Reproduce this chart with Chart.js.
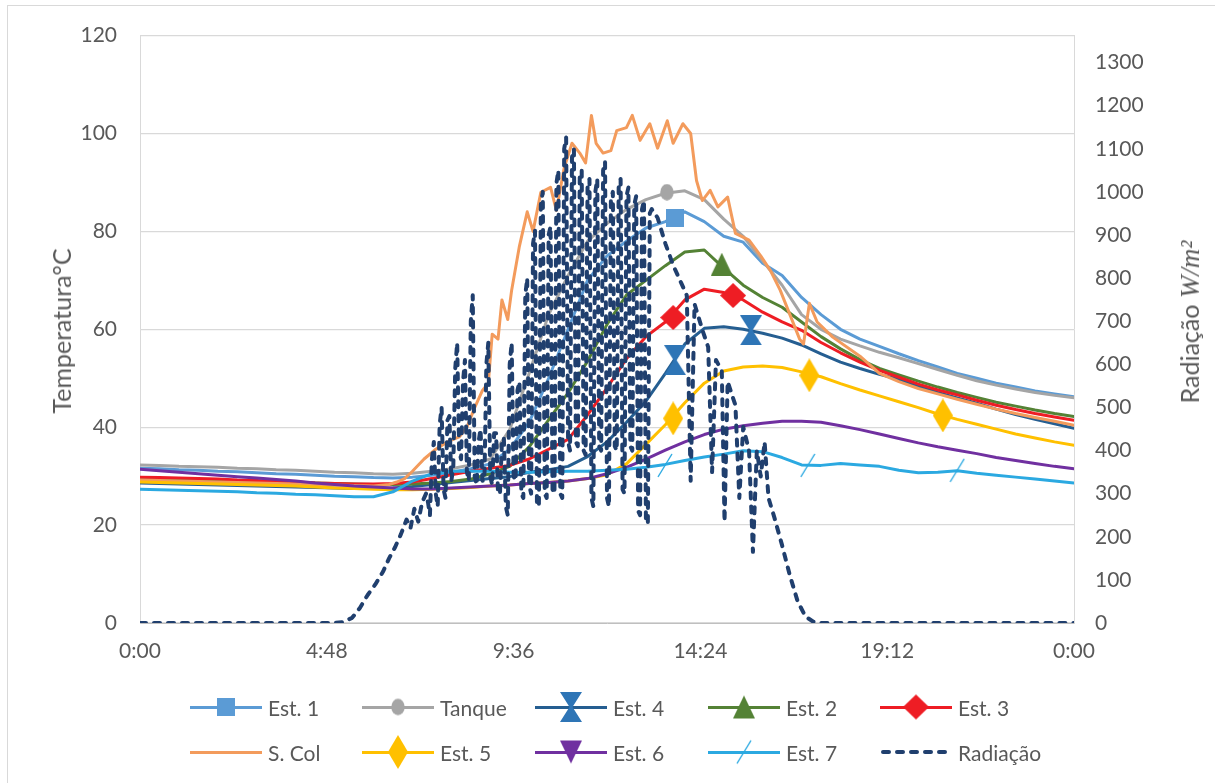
<!DOCTYPE html>
<html>
<head>
<meta charset="utf-8">
<script src="https://cdn.jsdelivr.net/npm/chart.js@4.4.1/dist/chart.umd.min.js"></script>
<style>
html,body{margin:0;padding:0;background:#fff;}
#wrap{position:relative;width:1215px;height:783px;overflow:hidden;font-family:Lato,'Open Sans',sans-serif;color:#595959;background:#fff;}
#frame{position:absolute;left:7px;top:5px;width:1400px;height:1000px;border-left:1px solid #D9D9D9;border-top:1px solid #D9D9D9;}
#c{position:absolute;left:0;top:0;}
.ytitle{position:absolute;white-space:nowrap;font-size:25px;transform:translate(-50%,-50%) rotate(-90deg);}
.ytitle i{font-family:'Liberation Serif','DejaVu Serif',serif;font-size:27px;}
.li{position:absolute;display:flex;align-items:center;height:36px;transform:translateY(-50%);font-size:21px;white-space:nowrap;}
.sym{position:relative;width:72px;height:36px;margin-right:6px;}
.sym .ln{position:absolute;left:0;top:16.5px;width:72px;height:3px;}
.sym img{position:absolute;left:36px;top:18px;transform:translate(-50%,-50%);}
</style>
</head>
<body>
<div id="wrap">
  <div id="frame"></div>
  <canvas id="c" width="1215" height="783"></canvas>
  <div class="ytitle" style="left:61px;top:331px;">Temperatura°C</div>
  <div class="ytitle" style="left:1190px;top:322px;">Radiação <i>W/m²</i></div>
  <div id="legend"></div>
</div>
<script>
// ---------------- DATA ----------------
const hours = [0,0.5,1,1.5,2,2.5,3,3.5,4,4.5,5,5.5,6,6.5,7,7.5,8,8.5,9,9.5,10,10.5,11,11.5,12,12.5,13,13.5,14,14.5,15,15.5,16,16.5,17,17.5,18,18.5,19,19.5,20,20.5,21,21.5,22,22.5,23,23.5,24];

const est1   = [31.6,31.5,31.3,31.2,31.0,30.9,30.7,30.5,30.4,30.2,30.0,29.9,29.7,29.6,29.8,30.2,30.8,31.5,32.5,35.5,41,50,60,70,75,78,80.7,82,84,82,79,77.8,73.5,71,66.5,63,60,58,56.5,55,53.6,52.3,51,50,49,48.2,47.4,46.8,46.2];
const tanque = [32.3,32.2,32.0,31.9,31.8,31.6,31.5,31.3,31.2,31.0,30.8,30.7,30.5,30.4,30.6,31.0,31.5,32.3,33.5,39.5,51,63,71,78,81.6,84.5,86.5,87.8,88.3,86.5,82.5,79,74,69,63,60,58,56.6,55.3,54.2,53,51.8,50.6,49.5,48.6,47.8,47.1,46.5,46];
const est4   = [28.6,28.5,28.4,28.3,28.2,28.1,28.0,27.9,27.8,27.7,27.6,27.5,27.5,27.6,27.9,28.3,28.7,29.1,29.5,29.9,30.8,31.3,32,34,37,41,45.3,51,57,60.2,60.5,60,59.2,58.2,56.8,55,53.3,52,50.8,49.8,48.4,47.1,46,44.9,43.7,42.6,41.6,40.7,39.8];
const est2   = [29.5,29.4,29.3,29.2,29.1,29.0,28.9,28.8,28.7,28.6,28.5,28.4,28.3,28.3,28.4,28.6,28.9,29.4,30.5,32,36,41.5,47,53.5,61,67,70,73,75.8,76.2,72.5,69,66.5,64.5,61.5,58.5,56,53.8,52,50.7,49.4,48.2,47.1,46.1,45.1,44.3,43.5,42.8,42.2];
const est3   = [29.8,29.7,29.6,29.5,29.4,29.2,29.1,28.9,28.8,28.6,28.5,28.4,28.4,28.5,28.8,29.5,30.3,31,31.6,32.2,33.5,35.5,37.5,42.5,48,54,58.5,61.5,66,68.2,67.5,66,63.5,61.5,59.8,57.3,55.2,53.3,51.6,50.2,48.8,47.6,46.6,45.5,44.5,43.6,42.8,42.1,41.4];
const est5   = [28.8,28.7,28.6,28.5,28.4,28.3,28.2,28.1,28.0,27.8,27.6,27.5,27.3,27.2,27.2,27.3,27.5,27.7,28.0,28.2,28.5,28.7,29.0,29.5,30.3,32.5,36.5,40.5,45,49,51.5,52.3,52.5,52.2,51.3,50.3,48.9,47.6,46.4,45.2,44,42.7,41.6,40.6,39.6,38.6,37.8,37,36.3];
const est6   = [31.4,31.1,30.8,30.5,30.2,29.9,29.6,29.3,29.0,28.6,28.3,28.0,27.8,27.6,27.4,27.4,27.6,27.8,28.0,28.2,28.5,28.7,29.0,29.5,30.5,31.8,33.5,35.3,37,38.5,39.6,40.3,40.8,41.2,41.2,41,40.3,39.5,38.6,37.7,36.8,36,35.3,34.6,33.8,33.2,32.6,32,31.5];
const est7   = [27.3,27.2,27.1,27.0,26.9,26.8,26.6,26.5,26.3,26.2,26.0,25.8,25.8,26.8,29.0,30.5,31.0,31.0,31.0,30.8,30.8,30.9,31.0,31.0,31.2,31.4,31.8,32.4,33.2,33.9,34.5,35.2,35.0,33.8,32.3,32.2,32.6,32.3,32.0,31.2,30.7,30.8,31.1,30.6,30.2,29.8,29.4,29.0,28.6];

const scolHours  = [0,1,2,3,4,5,6,6.4,6.6,6.8,7.0,7.3,7.6,7.9,8.2,8.4,8.6,8.8,8.95,9.05,9.2,9.3,9.45,9.55,9.75,9.95,10.1,10.3,10.55,10.7,10.9,11.1,11.3,11.45,11.6,11.72,11.9,12.1,12.25,12.5,12.65,12.85,13.1,13.3,13.55,13.7,13.95,14.15,14.3,14.45,14.65,14.85,15.1,15.3,15.65,15.95,16.2,16.45,16.7,16.95,17.05,17.2,17.4,17.8,18.5,19,19.5,20,20.5,21,21.5,22,22.5,23,23.5,24];
const scolValues = [29.2,29.0,28.8,28.6,28.4,28.2,28.0,28.3,28.8,29.5,31,33.5,35.5,37,38,40,44,47.5,49,59,58,66,62,68,77,84,80,88,89,84.3,93,98,96,94,103.7,98,96,96.5,100.6,101.2,103.7,98.6,102,97,102.6,98,102,100,90.4,86.3,88.4,85,87,79.6,78.2,75,72,68,63,58,57,65.3,61.5,58.4,54.5,51,49.3,47.9,46.8,45.7,44.7,43.7,42.8,42,41.2,40.4];

const radHours  = [0,5.0,5.2,5.45,5.65,5.85,6.05,6.25,6.4,6.55,6.7,6.85,6.95,7.05,7.15,7.25,7.35,
  7.40,7.45,7.50,7.55,7.60,7.65,7.70,7.75,7.80,7.85,7.90,7.95,8.00,8.05,8.10,8.15,8.20,8.25,8.30,8.35,8.40,8.45,8.50,8.55,8.60,8.65,8.70,8.75,8.80,8.85,8.90,8.95,
  9.00,9.05,9.10,9.15,9.20,9.25,9.30,9.35,9.40,9.45,9.50,9.55,9.60,9.65,9.70,9.75,9.80,9.85,9.90,9.95,
  10.00,10.05,10.10,10.15,10.20,10.25,10.30,10.35,10.40,10.45,10.50,10.55,10.60,10.65,10.70,10.75,10.80,10.85,10.90,10.95,
  11.00,11.05,11.10,11.15,11.20,11.25,11.30,11.35,11.40,11.45,11.50,11.55,11.60,11.65,11.70,11.75,11.80,11.85,11.90,11.95,
  12.00,12.05,12.10,12.15,12.20,12.25,12.30,12.35,12.40,12.45,12.50,12.55,12.60,12.65,12.70,12.75,12.80,12.85,12.90,12.95,
  13.00,13.05,13.10,13.15,13.3,13.5,13.7,13.9,14.05,14.15,14.25,14.45,14.6,14.7,14.8,14.95,15.02,15.1,15.3,15.4,15.5,15.65,15.75,15.85,15.95,16.05,16.15,16.3,16.5,16.7,16.9,17.1,17.3,17.5,24];
const radValues = [0,0,2,12,35,65,90,120,150,175,205,240,220,265,235,280,300,
  280,250,380,420,300,270,460,500,310,290,470,480,330,360,590,650,400,380,560,610,350,330,700,760,340,320,420,450,330,330,600,650,
  340,320,440,440,300,300,420,430,270,250,600,650,340,330,540,560,300,290,760,800,
  320,300,880,910,280,270,970,1000,300,290,900,920,310,300,1020,1050,300,290,1100,1126,
  420,400,1080,1100,420,410,1040,1050,400,390,1010,1030,290,270,1000,1030,410,400,1050,1070,
  290,270,980,1000,410,400,1010,1030,310,300,990,1010,410,400,970,990,260,250,960,980,
  240,230,950,960,940,880,830,790,760,330,740,680,640,350,610,585,235,560,505,290,455,400,165,400,340,420,290,245,180,110,50,15,3,0,0];

// marker points: [hour, value]
const est1Markers   = [[13.75,82.7]];
const tanqueMarkers = [[13.54,88]];
const est4Markers   = [[13.75,53.7],[15.7,59.8]];
const est2Markers   = [[14.95,73.3]];
const est3Markers   = [[13.7,62.4],[15.24,66.9]];
const est5Markers   = [[13.7,41.8],[17.2,50.6],[20.63,42.4]];
const est7Markers   = [[13.49,32.2],[17.16,32.2],[21,31.2]];

const xTickHours  = [0,4.8,9.6,14.4,19.2,24];
const xTickLabels = ['0:00','4:48','9:36','14:24','19:12','0:00'];
const leftTicks   = [0,20,40,60,80,100,120];
const rightTicks  = [0,100,200,300,400,500,600,700,800,900,1000,1100,1200,1300];

// ---------------- MARKERS ----------------
function mk(w,h,draw){const c=document.createElement('canvas');c.width=w;c.height=h;const g=c.getContext('2d');draw(g,w,h);return c;}
function poly(g,p,col){g.fillStyle=col;g.beginPath();g.moveTo(p[0][0],p[0][1]);for(let i=1;i<p.length;i++)g.lineTo(p[i][0],p[i][1]);g.closePath();g.fill();}
const M = {
  square: mk(18,18,(g,w,h)=>{g.fillStyle='#5B9BD5';g.fillRect(0,0,w,h);}),
  ellipse: mk(14,17,(g,w,h)=>{g.fillStyle='#A5A5A5';g.beginPath();g.ellipse(w/2,h/2,w/2-0.3,h/2-0.3,0,0,Math.PI*2);g.fill();}),
  hourglass: mk(22,30,(g,w,h)=>poly(g,[[0,0],[w,0],[w/2+1.5,h/2],[w,h],[0,h],[w/2-1.5,h/2]],'#2E75B6')),
  triUp: mk(22,23,(g,w,h)=>poly(g,[[w/2,0],[w,h],[0,h]],'#548235')),
  diamond: mk(26,25,(g,w,h)=>poly(g,[[w/2,0],[w,h/2],[w/2,h],[0,h/2]],'#EE1D24')),
  diamondTall: mk(20,34,(g,w,h)=>poly(g,[[w/2,0],[w,h/2],[w/2,h],[0,h/2]],'#FFC000')),
  triDown: mk(22,23,(g,w,h)=>poly(g,[[0,0],[w,0],[w/2,h]],'#7030A0')),
  slash: mk(16,25,(g,w,h)=>{g.strokeStyle='#2BA9E1';g.lineWidth=1.4;g.beginPath();g.moveTo(1,h-1);g.lineTo(w-1,1);g.stroke();})
};

// ---------------- CHART ----------------
const pts = (xs,ys)=>xs.map((x,i)=>({x:x,y:ys[i]}));
const mpts = arr=>arr.map(p=>({x:p[0],y:p[1]}));
const series = [
  {label:'Est. 1', xs:hours, ys:est1, color:'#5B9BD5', marker:'square', mk:est1Markers},
  {label:'Tanque', xs:hours, ys:tanque, color:'#A5A5A5', marker:'ellipse', mk:tanqueMarkers},
  {label:'Est. 4', xs:hours, ys:est4, color:'#255E91', marker:'hourglass', mk:est4Markers},
  {label:'Est. 2', xs:hours, ys:est2, color:'#548235', marker:'triUp', mk:est2Markers},
  {label:'Est. 3', xs:hours, ys:est3, color:'#EE1D24', marker:'diamond', mk:est3Markers},
  {label:'S. Col', xs:scolHours, ys:scolValues, color:'#F39B5C', marker:null, mk:[]},
  {label:'Est. 5', xs:hours, ys:est5, color:'#FFC000', marker:'diamondTall', mk:est5Markers},
  {label:'Est. 6', xs:hours, ys:est6, color:'#7030A0', marker:'triDown', mk:[]},
  {label:'Est. 7', xs:hours, ys:est7, color:'#2BA9E1', marker:'slash', mk:est7Markers}
];
const datasets = [];
series.forEach((s,i)=>{
  datasets.push({label:s.label,data:pts(s.xs,s.ys),borderColor:s.color,borderWidth:3,pointRadius:0,tension:0,fill:false,yAxisID:'y',order:100-2*i,borderJoinStyle:'round',borderCapStyle:'round'});
  if (s.marker && s.mk.length){
    datasets.push({label:s.label+' m',data:mpts(s.mk),showLine:false,pointStyle:M[s.marker],pointRadius:6,yAxisID:'y',order:99-2*i});
  }
});
datasets.push({label:'Radiação',data:pts(radHours,radValues),borderColor:'#203F6E',borderWidth:4,borderDash:[6,8],borderCapStyle:'round',borderJoinStyle:'round',pointRadius:0,tension:0,fill:false,yAxisID:'y1',order:0});

const tickFont = {family:'Lato', size:21};
const plain = v=>String(v);
new Chart(document.getElementById('c'), {
  type:'line',
  data:{datasets:datasets},
  options:{
    responsive:false, animation:false, events:[],
    layout:{padding:{top:35,left:0,right:0,bottom:0}},
    plugins:{legend:{display:false},tooltip:{enabled:false}},
    scales:{
      x:{type:'linear',min:0,max:24,position:'bottom',
        afterBuildTicks:s=>{s.ticks=xTickHours.map(v=>({value:v}));},
        ticks:{callback:(v,i)=>xTickLabels[i],color:'#595959',font:tickFont,padding:16,maxRotation:0,autoSkip:false},
        grid:{display:false,drawTicks:false},
        border:{display:true,color:'#BFBFBF',width:1},
        afterFit:s=>{s.height=160;}
      },
      y:{type:'linear',position:'left',min:0,max:120,
        afterBuildTicks:s=>{s.ticks=leftTicks.map(v=>({value:v}));},
        ticks:{callback:plain,color:'#595959',font:tickFont,padding:23},
        grid:{color:'#D9D9D9',lineWidth:1.3,drawTicks:false},
        border:{display:true,color:'#D9D9D9',width:1},
        afterFit:s=>{s.width=140;}
      },
      y1:{type:'linear',position:'right',min:0,max:1362.5,
        afterBuildTicks:s=>{s.ticks=rightTicks.map(v=>({value:v}));},
        ticks:{callback:plain,color:'#595959',font:tickFont,padding:21},
        grid:{display:false,drawTicks:false},
        border:{display:true,color:'#D9D9D9',width:1},
        afterFit:s=>{s.width=141;}
      }
    }
  }
});

// ---------------- LEGEND (HTML) ----------------
const legendCols = [190,362,535,708,880];
const legendRows = [707,752];
const legendOrder = ['Est. 1','Tanque','Est. 4','Est. 2','Est. 3','S. Col','Est. 5','Est. 6','Est. 7','Radiação'];
const lg = document.getElementById('legend');
legendOrder.forEach((name,k)=>{
  const item = document.createElement('div');
  item.className='li';
  item.style.left = legendCols[k%5]+'px';
  item.style.top = legendRows[Math.floor(k/5)]+'px';
  const sym = document.createElement('div'); sym.className='sym';
  const s = series.find(x=>x.label===name);
  if (s){
    const ln=document.createElement('div'); ln.className='ln'; ln.style.background=s.color; sym.appendChild(ln);
    if (s.marker){const im=document.createElement('img'); im.src=M[s.marker].toDataURL(); sym.appendChild(im);}
  } else {
    sym.innerHTML='<svg width="72" height="36" style="position:absolute;left:0;top:0"><line x1="3" y1="18" x2="69" y2="18" stroke="#203F6E" stroke-width="4" stroke-dasharray="6 8" stroke-linecap="round"/></svg>';
  }
  item.appendChild(sym);
  const t=document.createElement('span'); t.textContent=name; item.appendChild(t);
  lg.appendChild(item);
});
</script>
</body>
</html>
